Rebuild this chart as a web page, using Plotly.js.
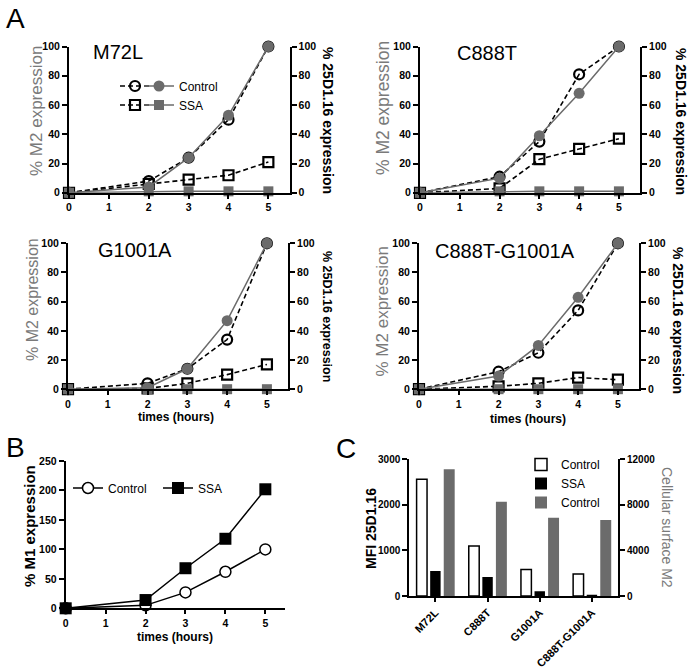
<!DOCTYPE html>
<html><head><meta charset="utf-8">
<script src="https://cdn.plot.ly/plotly-3.0.1.min.js"></script>
<style>html,body{margin:0;padding:0;background:#fff}#chart{width:694px;height:668px}</style>
</head><body><div id="chart"></div>
<script>
// ---------- data ----------
const hours = [0, 2, 3, 4, 5];
const panelNames = ['M72L', 'C888T', 'G1001A', 'C888T-G1001A'];

const m2Control_M72L = [0, 4, 24, 53, 100];
const m2SSA_M72L = [0, 1, 1, 1, 1];
const d25Control_M72L = [0, 8, 24, 50, 100];
const d25SSA_M72L = [0, 6, 9, 12, 21];

const m2Control_C888T = [0, 10, 39, 68, 100];
const m2SSA_C888T = [0, 1, 1, 1, 1];
const d25Control_C888T = [0, 11, 35, 81, 100];
const d25SSA_C888T = [0, 3, 23, 30, 37];

const m2Control_G1001A = [0, 1, 14, 47, 100];
const m2SSA_G1001A = [0, 0, 0, 0, 0];
const d25Control_G1001A = [0, 4, 14, 34, 100];
const d25SSA_G1001A = [0, 0.5, 4, 10, 17];

const m2Control_C888TG1001A = [0, 9, 30, 63, 100];
const m2SSA_C888TG1001A = [0, 0, 0, 0, 0];
const d25Control_C888TG1001A = [0, 12, 25, 54, 100];
const d25SSA_C888TG1001A = [0, 2, 4, 8, 6.5];

const m1Control = [0, 5, 27, 62, 100];
const m1SSA = [0, 14, 68, 118, 202];

const categories = ['M72L', 'C888T', 'G1001A', 'C888T-G1001A'];
const mfiControl = [2555, 1095, 580, 480];
const mfiSSA = [547, 415, 105, 30];
const surfaceM2Control = [11100, 8250, 6850, 6650];

const pctTicks = [0, 20, 40, 60, 80, 100];
const hourTicks = [0, 1, 2, 3, 4, 5];
const m1Ticks = [0, 50, 100, 150, 200, 250];
const mfiTicks = [0, 1000, 2000, 3000];
const surfTicks = [0, 4000, 8000, 12000];
const surfTickText = ['0', '4000', '8000', '12000'];

// ---------- helpers ----------
const W = 694, H = 668;
const fx = p => p / W, fy = p => 1 - p / H;
const FONT = 'Liberation Sans, Arial, sans-serif';
const GREY = '#6b6b6b';
const TITLEGREY = '#7a7a7a';

const axisBase = {
  showline: true, linecolor: 'black', linewidth: 2,
  ticks: 'outside', ticklen: 5, tickwidth: 2, tickcolor: 'black',
  showgrid: false, zeroline: false, fixedrange: true,
  tickfont: {family: FONT, size: 10.5, color: 'black', weight: 'bold'}
};
const ax = o => Object.assign({}, axisBase, o);

const panelsA = [
  {m2c: m2Control_M72L, m2s: m2SSA_M72L, dc: d25Control_M72L, ds: d25SSA_M72L,
   xpx: [69, 289.5], ypx: [192.8, 46.5]},
  {m2c: m2Control_C888T, m2s: m2SSA_C888T, dc: d25Control_C888T, ds: d25SSA_C888T,
   xpx: [420, 640], ypx: [192.8, 46.5]},
  {m2c: m2Control_G1001A, m2s: m2SSA_G1001A, dc: d25Control_G1001A, ds: d25SSA_G1001A,
   xpx: [68, 288], ypx: [389.2, 243.3]},
  {m2c: m2Control_C888TG1001A, m2s: m2SSA_C888TG1001A, dc: d25Control_C888TG1001A, ds: d25SSA_C888TG1001A,
   xpx: [419, 639], ypx: [389.2, 243.3]}
];

const traces = [];
const layout = {
  width: W, height: H, autosize: false,
  margin: {l: 0, r: 0, t: 0, b: 0},
  paper_bgcolor: 'white', plot_bgcolor: 'rgba(0,0,0,0)',
  font: {family: FONT, color: 'black'},
  barmode: 'overlay',
  annotations: [],
  legend: {x: fx(115), y: fy(71.5), xanchor: 'left', yanchor: 'top', bgcolor: 'rgba(0,0,0,0)',
           font: {family: FONT, size: 12, color: 'black'}, borderwidth: 0},
  legend2: {x: fx(139), y: fy(71.5), xanchor: 'left', yanchor: 'top', bgcolor: 'rgba(0,0,0,0)',
            font: {family: FONT, size: 12, color: 'black'}, borderwidth: 0},
  legend3: {x: fx(68), y: fy(473.5), xanchor: 'left', yanchor: 'top', orientation: 'h',
            entrywidth: 45, entrywidthmode: 'pixels', bgcolor: 'rgba(0,0,0,0)',
            font: {family: FONT, size: 12, color: 'black'}, borderwidth: 0},
  legend4: {x: fx(521), y: fy(450), xanchor: 'left', yanchor: 'top', bgcolor: 'rgba(0,0,0,0)',
            font: {family: FONT, size: 12, color: 'black'}, borderwidth: 0}
};

panelsA.forEach((p, k) => {
  const xId = k === 0 ? 'x' : 'x' + (k + 1);
  const yL = k === 0 ? 'y' : 'y' + (2 * k + 1);
  const yR = 'y' + (2 * k + 2);
  const xKey = 'xaxis' + (k === 0 ? '' : (k + 1));
  const yLKey = 'yaxis' + (k === 0 ? '' : (2 * k + 1));
  const yRKey = 'yaxis' + (2 * k + 2);
  layout[xKey] = ax({domain: [fx(p.xpx[0]), fx(p.xpx[1])], range: [0, 5.53], anchor: yR,
                     tickvals: hourTicks, ticklen: 4});
  layout[yRKey] = ax({domain: [fy(p.ypx[0]), fy(p.ypx[1])], range: [0, 100], anchor: xId,
                      side: 'right', tickvals: pctTicks});
  layout[yLKey] = ax({overlaying: yR, range: [0, 100], anchor: xId, side: 'left', tickvals: pctTicks});
  const show = k === 0;
  traces.push({
    type: 'scatter', mode: 'lines+markers', x: hours, y: p.dc, xaxis: xId, yaxis: yR,
    name: ' ', legend: 'legend', showlegend: show, cliponaxis: false,
    line: {color: 'black', width: 1.6, dash: '5px,3px'},
    marker: {symbol: 'circle-open', size: 10, color: 'black', line: {width: 2.2}}
  });
  traces.push({
    type: 'scatter', mode: 'lines+markers', x: hours, y: p.ds, xaxis: xId, yaxis: yR,
    name: ' ', legend: 'legend', showlegend: show, cliponaxis: false,
    line: {color: 'black', width: 1.6, dash: '5px,3px'},
    marker: {symbol: 'square-open', size: 10, color: 'black', line: {width: 2.2}}
  });
  traces.push({
    type: 'scatter', mode: 'lines+markers', x: hours, y: p.m2c, xaxis: xId, yaxis: yL,
    name: 'Control', legend: 'legend2', showlegend: show, cliponaxis: false,
    line: {color: GREY, width: 1.5},
    marker: {symbol: 'circle', size: 11, color: GREY}
  });
  traces.push({
    type: 'scatter', mode: 'lines+markers', x: hours, y: p.m2s, xaxis: xId, yaxis: yL,
    name: 'SSA', legend: 'legend2', showlegend: show, cliponaxis: false,
    line: {color: GREY, width: 1.5},
    marker: {symbol: 'square', size: 10, color: GREY}
  });
});

// Panel B
layout.xaxis5 = ax({domain: [fx(65.7), fx(285.3)], range: [0, 5.5], anchor: 'y9', tickvals: hourTicks, ticklen: 4});
layout.yaxis9 = ax({domain: [fy(608.3), fy(461)], range: [0, 250], anchor: 'x5', tickvals: m1Ticks});
traces.push({
  type: 'scatter', mode: 'lines+markers', x: hours, y: m1Control, xaxis: 'x5', yaxis: 'y9',
  name: 'Control', legend: 'legend3', cliponaxis: false,
  line: {color: 'black', width: 1.5},
  marker: {symbol: 'circle', size: 11, color: 'white', line: {color: 'black', width: 1.5}}
});
traces.push({
  type: 'scatter', mode: 'lines+markers', x: hours, y: m1SSA, xaxis: 'x5', yaxis: 'y9',
  name: 'SSA', legend: 'legend3', cliponaxis: false,
  line: {color: 'black', width: 1.5},
  marker: {symbol: 'square', size: 12, color: 'black'}
});

// Panel C
layout.xaxis6 = ax({domain: [fx(409.3), fx(618)], range: [-0.5, 3.5], anchor: 'y10', type: 'category',
                    tickangle: -45, ticklen: 4,
                    tickfont: {family: FONT, size: 11, color: 'black', weight: 'bold'}});
layout.yaxis10 = ax({domain: [fy(596), fy(459)], range: [0, 3000], anchor: 'x6', tickvals: mfiTicks,
                     tickfont: {family: FONT, size: 10, color: 'black', weight: 'bold'}});
layout.yaxis11 = ax({overlaying: 'y10', side: 'right', range: [0, 12000], anchor: 'x6',
                     tickvals: surfTicks, ticktext: surfTickText,
                     tickfont: {family: FONT, size: 10, color: 'black', weight: 'bold'}});
traces.push({
  type: 'bar', x: categories, y: mfiControl, xaxis: 'x6', yaxis: 'y10', width: 0.2, offset: -0.36,
  name: 'Control', legend: 'legend4', marker: {color: 'white', line: {color: 'black', width: 1.5}}
});
traces.push({
  type: 'bar', x: categories, y: mfiSSA, xaxis: 'x6', yaxis: 'y10', width: 0.2, offset: -0.1,
  name: 'SSA', legend: 'legend4', marker: {color: 'black', line: {color: 'black', width: 0}}
});
traces.push({
  type: 'bar', x: categories, y: surfaceM2Control, xaxis: 'x6', yaxis: 'y11', width: 0.21, offset: 0.16,
  name: 'Control', legend: 'legend4', marker: {color: GREY, line: {color: GREY, width: 0}}
});

// ---------- text annotations ----------
function note(text, px, py, size, opts) {
  layout.annotations.push(Object.assign({
    text: text, xref: 'paper', yref: 'paper', x: fx(px), y: fy(py),
    xanchor: 'center', yanchor: 'middle', showarrow: false,
    font: {family: FONT, size: size, color: 'black'}
  }, opts || {}));
}
const bold = (size, color) => ({font: {family: FONT, size: size, color: color || 'black', weight: 'bold'}});
const reg = (size, color) => ({font: {family: FONT, size: size, color: color || 'black'}});

note('A', 16, 18, 28);
note('B', 16, 447, 28);
note('C', 346, 448, 28);

note(panelNames[0], 118, 52, 20);
note(panelNames[1], 486.5, 53, 20);
note(panelNames[2], 134.5, 250, 20);
note(panelNames[3], 504.5, 251, 20);

const leftA = [[36, 111, 17], [383, 108, 17.5], [32, 299, 16], [381.5, 312, 17]];
leftA.forEach(a => note('% M2 expression', a[0], a[1], a[2], Object.assign({textangle: -90}, reg(a[2], TITLEGREY))));
const rightA = [[328, 120, 14], [681, 121, 14], [327, 316, 12.5], [678, 320, 14]];
rightA.forEach(a => note('% 25D1.16 expression', a[0], a[1], a[2], Object.assign({textangle: 90}, bold(a[2]))));

note('times (hours)', 176, 417, 12, bold(12));
note('times (hours)', 528, 419, 12, bold(12));
note('times (hours)', 175, 637, 12, bold(12));
note('% M1 expression', 29, 526, 15, Object.assign({textangle: -90}, bold(15)));
note('MFI 25D1.16', 371, 529, 14, Object.assign({textangle: -90}, bold(14)));
note('Cellular surface M2', 667, 527, 14, Object.assign({textangle: 90}, reg(14, TITLEGREY)));

Plotly.newPlot('chart', traces, layout, {staticPlot: true, displayModeBar: false});
</script>
</body></html>
